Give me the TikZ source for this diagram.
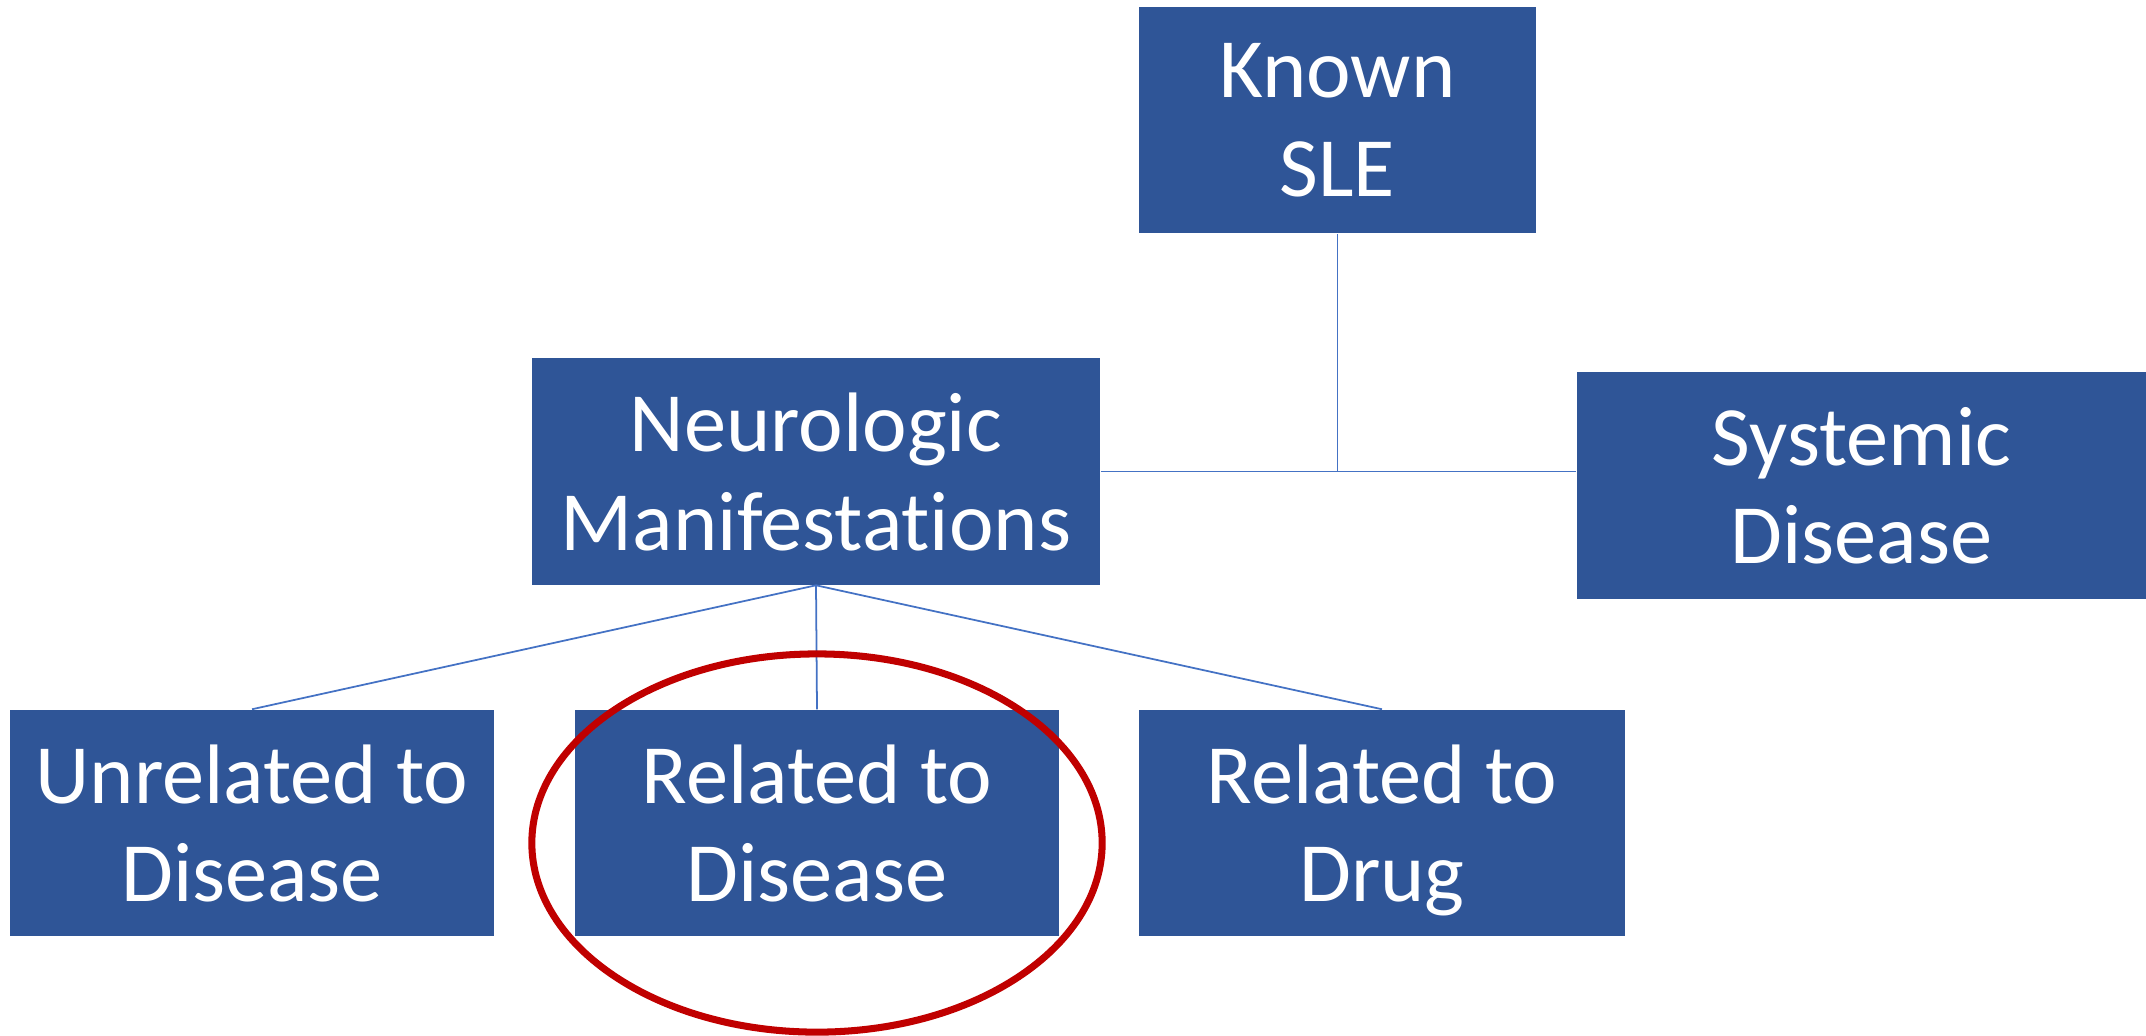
\documentclass[tikz,border=0pt]{standalone}
\usepackage{fontspec}
\setmainfont{Carlito}[Ligatures=NoCommon]
\usepackage{tikz}
\usetikzlibrary{positioning}

\definecolor{boxblue}{HTML}{2F5597}
\definecolor{lineblue}{HTML}{4472C4}
\definecolor{circred}{HTML}{C00000}

\begin{document}
\begin{tikzpicture}[x=0.01cm,y=-0.01cm]

\tikzset{box/.style={rectangle, fill=boxblue, text=white, inner sep=0pt,
                     minimum height=2.26cm, align=center, text depth=0pt,
                     font=\fontsize{24}{28}\selectfont},
         link/.style={draw=lineblue, line width=0.5pt}}

\useasboundingbox (0,0) rectangle (2146,1035);

\node[box, minimum width=3.97cm] (sle) at (1337.5,120) {Known\\SLE};
\node[box, minimum width=5.68cm] (neuro) at (816,471.5) {Neurologic\\Manifestations};
\node[box, minimum width=5.69cm] (systemic) at (1861.5,485.5) {Systemic\\Disease};

\node[box, minimum width=4.84cm] (unrel) at (252,823) {Unrelated to\\Disease};
\node[box, minimum width=4.84cm] (reldis) at (817,823) {Related to\\Disease};
\node[box, minimum width=4.86cm] (reldrug) at (1382,823) {Related to\\Drug};

% top level
\draw[link] (sle.south) -- (sle.south |- neuro.east);
\draw[link] (neuro.east) -- (neuro.east -| systemic.west);

% children
\foreach \child in {unrel, reldis, reldrug}
  \draw[link] (neuro.south) -- (\child.north);

% highlight
\draw[circred, line width=2pt] (817,843) ellipse [x radius=2.85cm, y radius=1.89cm];

\end{tikzpicture}
\end{document}
